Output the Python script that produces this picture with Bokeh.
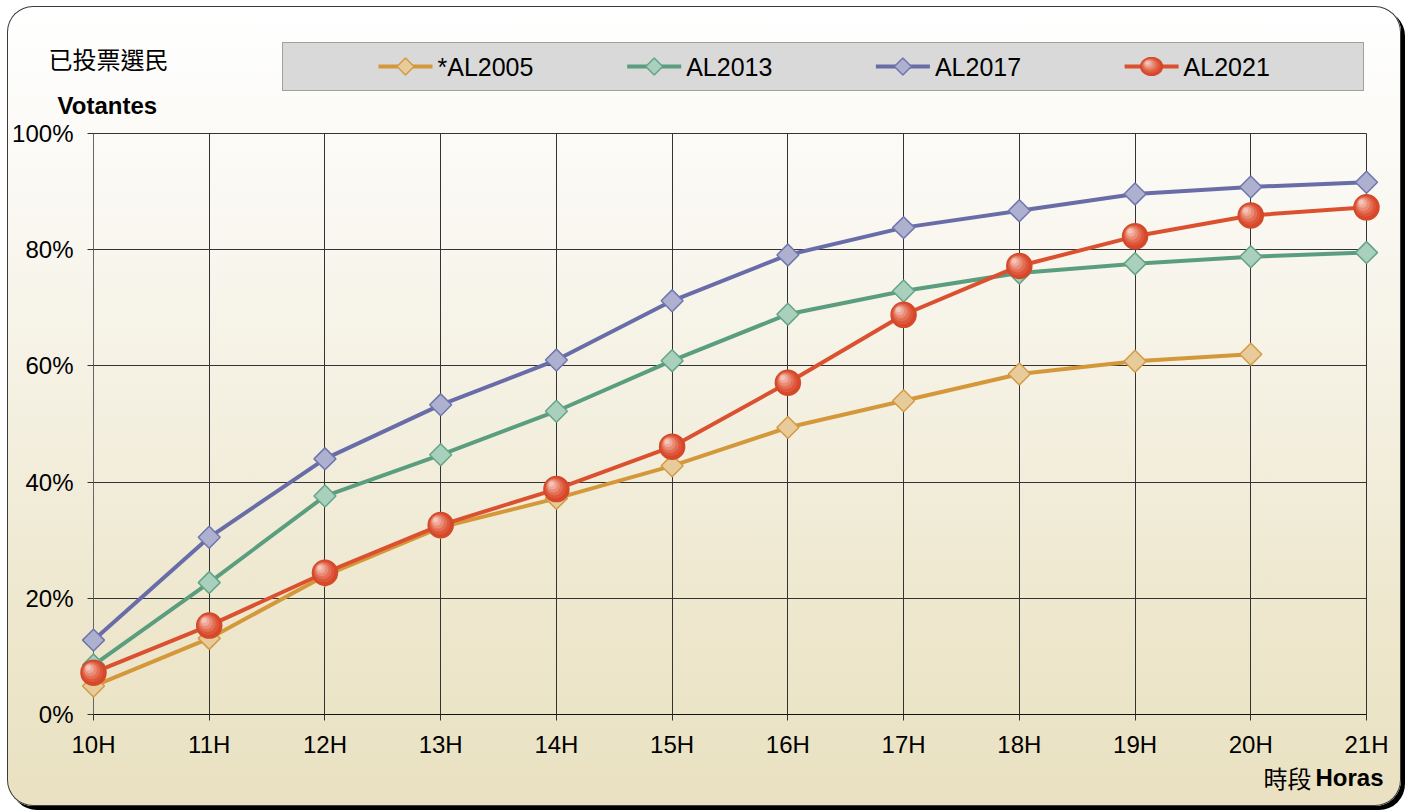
import numpy as np
from bokeh.plotting import figure
from bokeh.models import Range1d, FixedTicker, PrintfTickFormatter, ColumnDataSource
from bokeh.core.properties import value
from bokeh.transform import dodge
from bokeh.embed import file_html
from bokeh.resources import INLINE

# ---------------- data ----------------
hours = [10, 11, 12, 13, 14, 15, 16, 17, 18, 19, 20, 21]
hour_labels = ["10H", "11H", "12H", "13H", "14H", "15H", "16H", "17H", "18H", "19H", "20H", "21H"]
y_ticks = [0, 20, 40, 60, 80, 100]

series_names = ["*AL2005", "AL2013", "AL2017", "AL2021"]
al2005 = [4.9, 13.1, 23.9, 32.2, 37.2, 42.8, 49.4, 54.0, 58.6, 60.8, 62.0]
al2013 = [8.5, 22.7, 37.6, 44.7, 52.2, 60.9, 68.9, 72.9, 76.0, 77.6, 78.8, 79.5]
al2017 = [12.8, 30.5, 44.0, 53.3, 61.0, 71.2, 79.1, 83.8, 86.7, 89.6, 90.8, 91.6]
al2021 = [7.2, 15.3, 24.4, 32.6, 38.8, 46.1, 57.1, 68.8, 77.2, 82.3, 85.9, 87.3]

# ---------------- figure ----------------
W, H = 1394, 800
BL, BR, BT, BB = 86, 35, 127, 92
p = figure(width=W, height=H, output_backend="svg", toolbar_location=None,
           x_range=Range1d(10, 21), y_range=Range1d(0, 100), title=None,
           min_border_left=BL, min_border_right=BR, min_border_top=BT,
           min_border_bottom=BB)
p.background_fill_color = None
p.border_fill_color = None
p.outline_line_color = "#333333"
p.styles = {
    "margin-left": "7px",
    "margin-top": "6px",
    "background": "linear-gradient(to bottom, #ffffff 0%, #fbfaf6 18%, #f4f0e1 50%, #ede6cb 80%, #e9e1c1 100%)",
    "border-radius": "26px",
    "box-shadow": "inset 0 0 0 1px #3c3c3c, 4px 4px 0 0 #000000",
}

FW, FH = W - BL - BR, H - BT - BB
PX_X = FW / 11.0     # px per hour
PX_Y = FH / 100.0    # px per percent


def hx(px):
    """canvas px (from left of figure) -> hour"""
    return 10 + (px - BL) / PX_X


def py_(py):
    """canvas px (from top of figure) -> percent"""
    return (BT + FH - py) / PX_Y


# grid
p.xgrid.ticker = FixedTicker(ticks=hours)
p.ygrid.ticker = FixedTicker(ticks=y_ticks)
p.xgrid.grid_line_color = "#333333"
p.ygrid.grid_line_color = "#333333"
p.xgrid.grid_line_width = 1
p.ygrid.grid_line_width = 1

# axes
p.xaxis.ticker = FixedTicker(ticks=hours)
p.xaxis.major_label_overrides = {h: lab for h, lab in zip(hours, hour_labels)}
p.yaxis.ticker = FixedTicker(ticks=y_ticks)
p.yaxis.formatter = PrintfTickFormatter(format="%d%%")
for ax in (p.xaxis[0], p.yaxis[0]):
    ax.major_label_text_font = "Liberation Sans"
    ax.major_label_text_font_size = "24px"
    ax.major_label_text_color = "#000000"
    ax.major_tick_in = 0
    ax.major_tick_out = 6
    ax.minor_tick_line_color = None
    ax.major_tick_line_color = "#333333"
p.xaxis.axis_line_color = "#111111"
p.yaxis.axis_line_color = "#666666"
p.xaxis.major_label_standoff = 10
p.yaxis.major_label_standoff = 14

# ---------------- legend box ----------------
p.quad(left=[hx(275)], right=[hx(1356)], bottom=[py_(84)], top=[py_(36)],
       fill_color="#D9D9D9", line_color="#555555", line_width=1, line_dash="1 1",
       level="overlay")

# ---------------- series ----------------
styles = [
    dict(line="#D4983A", fill="#E8CB9B", edge="#D39A45", marker="diamond"),
    dict(line="#5A9E7F", fill="#A8D0BD", edge="#64A486", marker="diamond"),
    dict(line="#686DA8", fill="#AEB0D0", edge="#6F75AD", marker="diamond"),
    dict(line="#DB512F", fill="#D9472B", edge="#D04A2C", marker="circle"),
]
values = [al2005, al2013, al2017, al2021]

BALL_LAYERS = [(0.84, 1.0, "#DE5A3E"), (0.68, 2.0, "#E4735B"), (0.52, 3.0, "#EA907B"),
               (0.36, 4.0, "#F0AE9F"), (0.2, 5.0, "#F5C9BD")]


def draw_markers(src, st, dsize, ball_size):
    if st["marker"] == "diamond":
        p.scatter("x", "y", source=src, marker="square", angle=np.pi / 4, size=dsize,
                  fill_color=st["fill"], line_color=st["edge"], line_width=1.5,
                  level="overlay")
    else:
        p.scatter("x", "y", source=src, marker="circle", size=ball_size,
                  fill_color=st["fill"], line_color=st["edge"], line_width=1.5,
                  level="overlay")
        for frac, off, col in BALL_LAYERS:
            p.scatter(dodge("x", -off / PX_X), dodge("y", off / PX_Y), source=src,
                      marker="circle", size=ball_size * frac, fill_color=col,
                      line_color=None, fill_alpha=0.85, level="overlay")


def legend_symbol(cx, cy, st):
    """legend symbol drawn as polygons (canvas px centre)"""
    if st["marker"] == "diamond":
        r = 8.5
        xs = [hx(cx), hx(cx + r), hx(cx), hx(cx - r)]
        ys = [py_(cy - r), py_(cy), py_(cy + r), py_(cy)]
        p.patch(xs, ys, fill_color=st["fill"], line_color=st["edge"], line_width=1.5,
                level="overlay")
    else:
        t = np.linspace(0, 2 * np.pi, 40, endpoint=False)
        rx, ry = 11.0, 9.0
        p.patch(list(hx(cx + rx * np.cos(t))), list(py_(cy + ry * np.sin(t))),
                fill_color=st["fill"], line_color=st["edge"], line_width=1.2,
                level="overlay")
        for frac, off, col in BALL_LAYERS:
            ox, oy = cx - off * 0.8, cy - off * 0.7
            p.patch(list(hx(ox + rx * frac * np.cos(t))), list(py_(oy + ry * frac * np.sin(t))),
                    fill_color=col, line_color=None, fill_alpha=0.85, level="overlay")


LEG_X0, LEG_STEP, LEG_GW, LEG_Y = 371, 248.7, 54, 60   # legend layout (canvas px)

for i, (name, vals, st) in enumerate(zip(series_names, values, styles)):
    src = ColumnDataSource(dict(x=hours[:len(vals)], y=vals))
    p.line("x", "y", source=src, line_color=st["line"], line_width=4, level="overlay")
    draw_markers(src, st, 15.5, 25)

    # legend entry
    x0 = LEG_X0 + i * LEG_STEP
    p.line([hx(x0), hx(x0 + LEG_GW)], [py_(LEG_Y), py_(LEG_Y)], line_color=st["line"],
           line_width=4, level="overlay")
    legend_symbol(x0 + LEG_GW / 2, LEG_Y, st)
    p.text(x=[hx(x0 + LEG_GW + 5)], y=[py_(LEG_Y)], text=[name],
           text_font=value("Liberation Sans"), text_font_size="25px",
           text_baseline="middle", text_align="left", text_color="#000000",
           level="overlay")

# ---------------- titles ----------------
p.text(x=[hx(41)], y=[py_(52)], text=["已投票選民"], text_font=value("Noto Sans CJK TC"),
       text_font_size="24px", text_baseline="middle", text_align="left",
       text_color="#000000", level="overlay")
p.text(x=[hx(50)], y=[py_(99)], text=["Votantes"], text_font=value("Liberation Sans"),
       text_font_size="24px", text_font_style="bold", text_baseline="middle",
       text_align="left", text_color="#000000", level="overlay")
p.text(x=[hx(1304)], y=[py_(771)], text=["時段"], text_font=value("Noto Sans CJK TC"),
       text_font_size="24px", text_baseline="middle", text_align="right",
       text_color="#000000", level="overlay")
p.text(x=[hx(1376)], y=[py_(771)], text=["Horas"], text_font=value("Liberation Sans"),
       text_font_size="24px", text_font_style="bold", text_baseline="middle",
       text_align="right", text_color="#000000", level="overlay")

open("out.html", "w").write(file_html(p, INLINE))
